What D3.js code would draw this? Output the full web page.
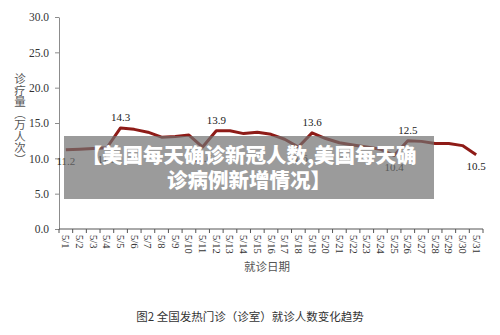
<!DOCTYPE html>
<html>
<head>
<meta charset="utf-8">
<script src="https://cdn.jsdelivr.net/npm/d3@7"></script>
<style>
  body { margin:0; background:#fff; }
  svg { display:block; }
</style>
</head>
<body>
<div id="chart" style="width:500px;height:335px"></div>
<script>
// 5月每日就诊量（万人次）
var days = ["5/1","5/2","5/3","5/4","5/5","5/6","5/7","5/8","5/9","5/10",
            "5/11","5/12","5/13","5/14","5/15","5/16","5/17","5/18","5/19","5/20",
            "5/21","5/22","5/23","5/24","5/25","5/26","5/27","5/28","5/29","5/30","5/31"];
var visits = [11.2,11.3,11.4,11.5,14.3,14.1,13.7,13.0,13.1,13.3,
              11.6,13.9,13.9,13.5,13.7,13.4,12.7,11.6,13.6,12.8,
              12.2,11.9,11.6,11.3,10.4,12.5,12.4,12.1,12.1,11.8,10.5];
// 标注的点: [日期, 位置]
var labelled = [["5/1","below"],["5/4","below"],["5/5","above"],["5/11","below"],
                ["5/12","above"],["5/18","below"],["5/19","above"],["5/25","below"],
                ["5/26","above"],["5/31","below"]];
var yTicks = [0,5,10,15,20,25,30];
var yTitle = "诊疗量（万人次）";
var xTitle = "就诊日期";
var caption = "图2 全国发热门诊（诊室）就诊人数变化趋势";
var banner = ["【美国每天确诊新冠人数,美国每天确", "诊病例新增情况】"];

var margin = {top:17, right:17, bottom:106, left:59};
var width = 500, height = 335;
var plotWidth = 424, plotHeight = height - margin.top - margin.bottom;

var svg = d3.select("#chart").append("svg").attr("width",width).attr("height",height);
var plotArea = svg.append("g").attr("transform","translate("+margin.left+","+margin.top+")");

var xs = d3.scaleBand().domain(days).range([0,plotWidth]);
var ys = d3.scaleLinear().domain([0,30]).range([plotHeight,0]);

var serif = "'Liberation Serif','DejaVu Serif',serif";

// y axis
var yAxis = plotArea.append("g")
  .call(d3.axisLeft(ys).tickValues(yTicks).tickFormat(d3.format(".1f")).tickSize(4).tickSizeOuter(0));
yAxis.select(".domain").attr("stroke","#8c8c8c");
yAxis.selectAll(".tick line").attr("stroke","#8c8c8c");
yAxis.selectAll("text").attr("font-family",serif).attr("font-size","11.5px").attr("fill","#333").attr("x",-10);

// x axis: ticks at band edges
var xAxis = plotArea.append("g").attr("transform","translate(0,"+plotHeight+")");
xAxis.append("line").attr("x1",0).attr("x2",plotWidth).attr("stroke","#555");
xAxis.selectAll(".tk").data(d3.range(days.length+1)).enter().append("line")
  .attr("x1",function(i){ return i*xs.step(); }).attr("x2",function(i){ return i*xs.step(); })
  .attr("y1",0).attr("y2",4).attr("stroke","#555");
xAxis.selectAll(".lab").data(days).enter().append("text")
  .attr("transform",function(d){ return "translate("+(xs(d)+xs.bandwidth()/2-3.5)+",6) rotate(90)"; })
  .attr("font-family",serif).attr("font-size","10.5px").attr("fill","#333")
  .text(function(d){ return d; });

// line
var line = d3.line()
  .x(function(d,i){ return xs(days[i])+xs.bandwidth()/2; })
  .y(function(d){ return ys(d); });
plotArea.append("path").datum(visits)
  .attr("d",line).attr("fill","none").attr("stroke","#8e1b17")
  .attr("stroke-width",3).attr("stroke-linejoin","round");

// data labels
plotArea.selectAll(".dl").data(labelled).enter().append("text")
  .attr("x",function(d){ return xs(d[0])+xs.bandwidth()/2; })
  .attr("y",function(d){ var v = visits[days.indexOf(d[0])]; return ys(v)+(d[1]=="above"?-7:15); })
  .attr("text-anchor","middle").attr("font-family",serif).attr("font-size","11px").attr("fill","#222")
  .text(function(d){ return visits[days.indexOf(d[0])].toFixed(1); });

// axis titles (vertical writing)
svg.append("text").attr("x",20).attr("y",73)
  .attr("writing-mode","vertical-rl").attr("style","writing-mode:vertical-rl")
  .attr("font-family","'Noto Sans CJK SC',sans-serif")
  .attr("font-size","11.5px").attr("fill","#555")
  .text(yTitle);

svg.append("text").attr("x",267).attr("y",271).attr("text-anchor","middle")
  .attr("font-family","'Noto Sans CJK SC',sans-serif").attr("font-size","11.5px").attr("fill","#555")
  .text(xTitle);

svg.append("text").attr("x",250).attr("y",321).attr("text-anchor","middle")
  .attr("font-family","'Noto Sans CJK SC',sans-serif").attr("font-size","11.5px").attr("fill","#333")
  .text(caption);

// banner overlay
svg.append("rect").attr("x",64).attr("y",136).attr("width",370).attr("height",63)
  .attr("fill","rgba(112,112,112,0.7)");
svg.selectAll(".bn").data(banner).enter().append("text")
  .attr("x",249).attr("y",function(d,i){ return 163+i*25; })
  .attr("text-anchor","middle").attr("font-family","'Noto Sans CJK SC',sans-serif")
  .attr("font-weight",900).attr("font-size","20.5px").attr("fill","#fff")
  .text(function(d){ return d; });
</script>
</body>
</html>
